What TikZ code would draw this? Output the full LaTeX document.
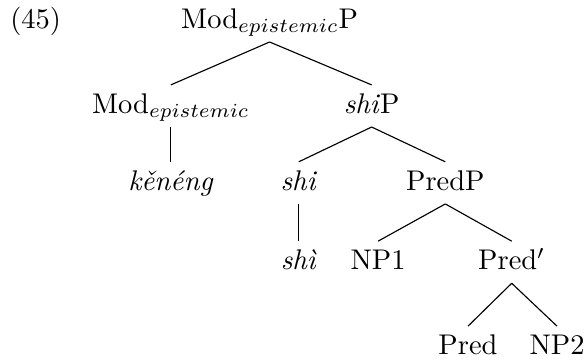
\documentclass[tikz,border=0pt]{standalone}
\begin{document}
\begin{tikzpicture}[lab/.style={anchor=base, inner sep=2.8pt, text height=7pt, text depth=1.8pt}]
        \useasboundingbox (0, 0) rectangle (7.25, -4.45);
        \node[lab] (ex) at (0.44, -0.35) {(45)};
        
        \node[lab] (modP) at (3.33, -0.35) {Mod$_{epistemic}$P};
        \node[lab] (mod) at (2.11, -1.40) {Mod$_{epistemic}$};
        \node[lab] (shiP) at (4.59, -1.40) {\textit{shi}P};
        \draw (modP.south) -- (mod.north);
        \draw (modP.south) -- (shiP.north);
        
        \node[lab] (keneng) at (2.11, -2.35) {\textit{kěnéng}};
        \draw (mod.south) -- (keneng.north);
        
        \node[lab] (shi) at (3.69, -2.35) {\textit{shi}};
        \node[lab] (predP) at (5.50, -2.35) {PredP};
        \draw (shiP.south) -- (shi.north);
        \draw (shiP.south) -- (predP.north);
        
        \node[lab] (shiv) at (3.69, -3.33) {\textit{shì}};
        \draw (shi.south) -- (shiv.north);
        
        \node[lab] (np1) at (4.67, -3.33) {NP1};
        \node[lab] (predbar) at (6.32, -3.33) {Pred$'$};
        \draw (predP.south) -- (np1.north);
        \draw (predP.south) -- (predbar.north);
        
        \node[lab] (pred) at (5.78, -4.38) {Pred};
        \node[lab] (np2) at (6.88, -4.38) {NP2};
        \draw (predbar.south) -- (pred.north);
        \draw (predbar.south) -- (np2.north);
        \end{tikzpicture}
\end{document}
